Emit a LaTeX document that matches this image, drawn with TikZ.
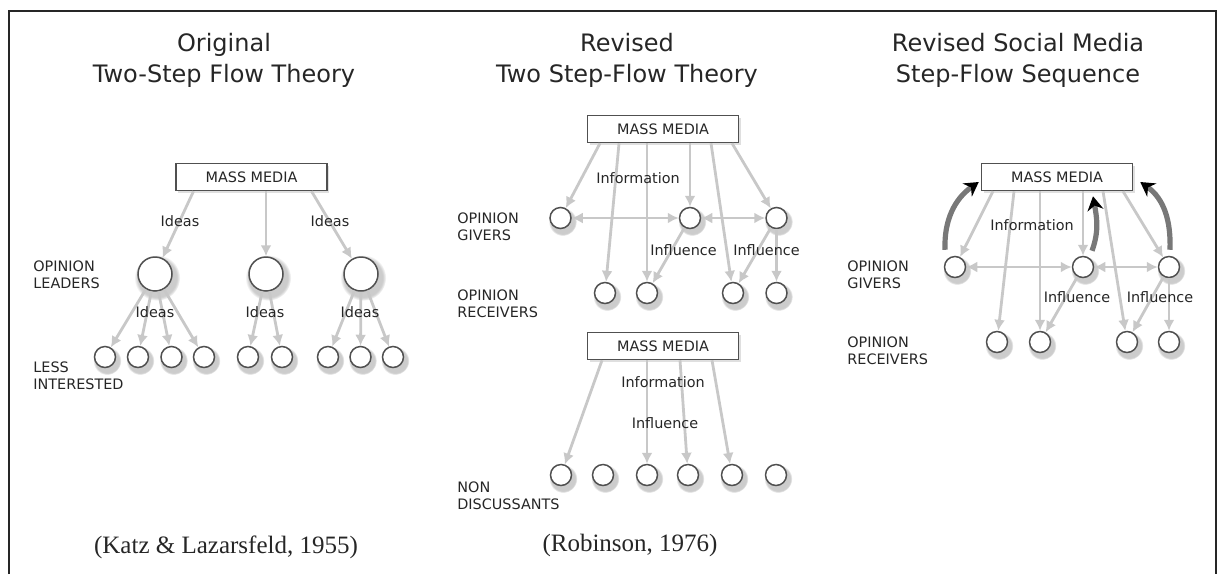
\documentclass[tikz,border=0pt]{standalone}
\usepackage{fontspec}
\setmainfont{DejaVu Sans}
\newfontfamily\citefont{Liberation Serif}
\usetikzlibrary{arrows.meta,shadows}
\definecolor{flowgray}{RGB}{200,200,200}
\definecolor{inkgray}{RGB}{38,38,38}
\definecolor{rimgray}{RGB}{80,80,80}
\definecolor{pushgray}{RGB}{120,120,120}

\tikzset{
  >={Latex[length=5.5pt,width=5.5pt]},
  person/.style={circle, draw=rimgray, fill=white, line width=0.75pt, inner sep=0pt, minimum size=10.5pt,
    circular drop shadow={shadow xshift=0.8pt, shadow yshift=-1.4pt, shadow scale=1.35, opacity=0.4}},
  leader/.style={person, minimum size=17pt},
  media/.style={draw=rimgray, fill=white, line width=0.75pt, minimum width=75.5pt, minimum height=13.5pt,
    inner sep=0pt, text=inkgray, font=\fontsize{7.2}{8}\selectfont,
    drop shadow={shadow xshift=1.2pt, shadow yshift=-1.2pt, opacity=0.25}},
  flow/.style={->, draw=flowgray, line width=1.4pt},
  both/.style={<->, draw=flowgray, line width=1.4pt},
  push/.style={-{Stealth[length=7pt,width=8pt,color=black]}, draw=pushgray, line width=2.6pt},
  tag/.style={text=inkgray, font=\fontsize{7.2}{8}\selectfont, inner sep=1pt},
  rowname/.style={text=inkgray, anchor=west, align=left, inner sep=0pt, font=\fontsize{7.2}{8.5}\selectfont},
  heading/.style={text=inkgray, align=center, font=\fontsize{12}{15.5}\selectfont},
  source/.style={text=inkgray, font=\citefont\fontsize{12.5}{14}\selectfont},
}

\begin{document}
\begin{tikzpicture}[x=5pt,y=5pt]
  \useasboundingbox (0,0) rectangle (121.8,-57.4);
  % Frame
  \draw[line width=1pt, inkgray] (0.9,-57.4) |- (121.6,-1.1) -- (121.6,-57.4);

  % Original two-step flow
  \node[heading] (titleA) at (22.4,-6.05) {Original\\Two-Step Flow Theory};
  \node[media] (mmA) at (25.15,-17.7) {MASS MEDIA};
  \node[leader] (la1) at (15.5,-27.4) {};
  \node[leader] (la2) at (26.6,-27.4) {};
  \node[leader] (la3) at (36.1,-27.4) {};
  \foreach \x [count=\i] in {10.5,13.8,17.15,20.4,24.8,28.2,32.8,36.05,39.3}
    \node[person] (lo\i) at (\x,-35.7) {};
  \draw[flow] ([xshift=-29pt]mmA.south) -- (la1);
  \draw[flow] (la2 |- mmA.south) -- (la2);
  \draw[flow] ([xshift=30pt]mmA.south) -- (la3);
  \foreach \i in {1,...,4} \draw[flow] (la1) -- (lo\i);
  \foreach \i in {5,6} \draw[flow] (la2) -- (lo\i);
  \foreach \i in {7,8,9} \draw[flow] (la3) -- (lo\i);
  \node[tag] (ideasA1) at (18,-22.1) {Ideas};
  \node[tag] (ideasA2) at (33,-22.1) {Ideas};
  \node[tag] (ideasA3) at (15.5,-31.2) {Ideas};
  \node[tag] (ideasA4) at (26.5,-31.2) {Ideas};
  \node[tag] (ideasA5) at (36,-31.2) {Ideas};
  \node[rowname] (leadersA) at (3.3,-27.5) {OPINION\\LEADERS};
  \node[rowname] (lessA) at (3.3,-37.6) {LESS\\INTERESTED};
  \node[source] (srcA) at (22.6,-54.7) {(Katz \& Lazarsfeld, 1955)};

  % Revised two step-flow
  \node[heading] (titleB) at (62.7,-6.05) {Revised\\Two Step-Flow Theory};
  \node[media] (mmB) at (66.3,-12.9) {MASS MEDIA};
  \foreach \x [count=\i] in {56.05,69.0,77.65}
    \node[person] (gb\i) at (\x,-21.8) {};
  \foreach \x [count=\i] in {60.5,64.7,73.3,77.65}
    \node[person] (rb\i) at (\x,-29.3) {};
  \draw[flow] ([xshift=-31.5pt]mmB.south) -- (gb1);
  \draw[flow] ([xshift=-22pt]mmB.south) -- (rb1);
  \draw[flow] (rb2 |- mmB.south) -- (rb2);
  \draw[flow] (gb2 |- mmB.south) -- (gb2);
  \draw[flow] ([xshift=24pt]mmB.south) -- (rb3);
  \draw[flow] ([xshift=34.5pt]mmB.south) -- (gb3);
  \draw[both] (gb1) -- (gb2);
  \draw[both] (gb2) -- (gb3);
  \draw[flow] (gb2) -- (rb2);
  \draw[flow] (gb3) -- (rb3);
  \draw[flow] (gb3) -- (rb4);
  \node[tag] (infoB) at (63.8,-17.8) {Information};
  \node[tag] (inflB1) at (68.35,-25.0) {Influence};
  \node[tag] (inflB2) at (76.65,-25.0) {Influence};
  \node[rowname] (giversB) at (45.7,-22.7) {OPINION\\GIVERS};
  \node[rowname] (receiversB) at (45.7,-30.4) {OPINION\\RECEIVERS};

  % Non discussants
  \node[media] (mmC) at (66.3,-34.6) {MASS MEDIA};
  \foreach \x [count=\i] in {56.1,60.3,64.7,68.8,73.2,77.6}
    \node[person] (nb\i) at (\x,-47.5) {};
  \draw[flow] ([xshift=-30.5pt]mmC.south) -- (nb1);
  \draw[flow] (nb3 |- mmC.south) -- (nb3);
  \draw[flow] ([xshift=8.5pt]mmC.south) -- (nb4);
  \draw[flow] ([xshift=24.5pt]mmC.south) -- (nb5);
  \node[tag] (infoC) at (66.3,-38.2) {Information};
  \node[tag] (inflC) at (66.5,-42.3) {Influence};
  \node[rowname] (nonB) at (45.7,-49.6) {NON\\DISCUSSANTS};
  \node[source] (srcB) at (63.0,-54.5) {(Robinson, 1976)};

  % Revised social media step-flow
  \node[heading] (titleD) at (101.8,-6.05) {Revised Social Media\\Step-Flow Sequence};
  \node[media] (mmD) at (105.7,-17.7) {MASS MEDIA};
  \foreach \x [count=\i] in {95.5,108.3,116.9}
    \node[person] (gd\i) at (\x,-26.7) {};
  \foreach \x [count=\i] in {99.7,104.0,112.7,116.9}
    \node[person] (rd\i) at (\x,-34.2) {};
  \draw[flow] ([xshift=-32pt]mmD.south) -- (gd1);
  \draw[flow] ([xshift=-21.5pt]mmD.south) -- (rd1);
  \draw[flow] (rd2 |- mmD.south) -- (rd2);
  \draw[flow] (gd2 |- mmD.south) -- (gd2);
  \draw[flow] ([xshift=23pt]mmD.south) -- (rd3);
  \draw[flow] ([xshift=33pt]mmD.south) -- (gd3);
  \draw[both] (gd1) -- (gd2);
  \draw[both] (gd2) -- (gd3);
  \draw[flow] (gd2) -- (rd2);
  \draw[flow] (gd3) -- (rd3);
  \draw[flow] (gd3) -- (rd4);
  \draw[push] ([xshift=-5pt,yshift=3pt]gd1.north) to[out=92,in=215] ([xshift=-1pt,yshift=-2.5pt]mmD.west);
  \draw[push] ([xshift=4.5pt,yshift=2.5pt]gd2.north) to[out=70,in=-80] ([xshift=18pt,yshift=-2.5pt]mmD.south);
  \draw[push] ([xshift=0.5pt,yshift=3pt]gd3.north) to[out=88,in=-35] ([xshift=3.5pt,yshift=-2.5pt]mmD.east);
  \node[tag] (infoD) at (103.2,-22.5) {Information};
  \node[tag] (inflD1) at (107.7,-29.7) {Influence};
  \node[tag] (inflD2) at (116.0,-29.7) {Influence};
  \node[rowname] (giversD) at (84.7,-27.5) {OPINION\\GIVERS};
  \node[rowname] (receiversD) at (84.7,-35.1) {OPINION\\RECEIVERS};
\end{tikzpicture}
\end{document}
